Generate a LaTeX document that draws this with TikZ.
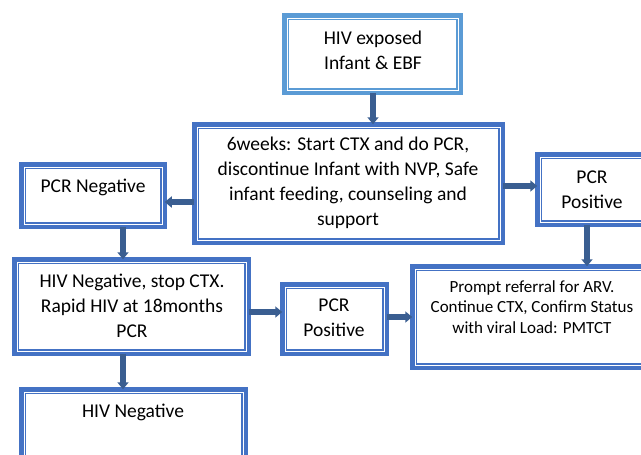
\documentclass[tikz,border=0pt]{standalone}
\usepackage{fontspec}
\setmainfont{Carlito}
\usetikzlibrary{arrows.meta}
\definecolor{boxblue}{RGB}{68,114,196}
\definecolor{lightblue}{RGB}{91,155,213}
\definecolor{arrowblue}{RGB}{58,94,145}
\tikzset{
  box/.style={draw=boxblue, line width=4.5pt, fill=white, inner sep=0pt, outer sep=0pt},
  topbox/.style={box, draw=lightblue},
  innerline/.style={draw=boxblue, line width=1.1pt},
  topinner/.style={innerline, draw=lightblue},
  txt/.style={align=center, inner sep=0pt, font=\fontsize{19.5}{25}\selectfont},
  smalltxt/.style={align=center, inner sep=0pt, font=\fontsize{17}{20.5}\selectfont},
  arr/.style={draw=arrowblue, line width=5.5pt, -{Triangle[width=11pt,length=7pt]}},
}
% frame of a box drawn a little inside its thick border
\newcommand\innerframe[2]{%
  \draw[#2] ([shift={(3.8pt,-3.8pt)}]#1.north west) rectangle ([shift={(-3.8pt,3.8pt)}]#1.south east);}
\begin{document}
\begin{tikzpicture}[x=1pt,y=-1pt]
\useasboundingbox (0,0) rectangle (641,455);
\clip (0,0) rectangle (641,455);

% boxes
\node[topbox, minimum width=176.5pt, minimum height=77.5pt] (top) at (372.5,54) {};
\innerframe{top}{topinner}
\node[box, minimum width=308.5pt, minimum height=118.5pt] (mid) at (348.5,183.5) {};
\innerframe{mid}{innerline}
\node[box, minimum width=143.5pt, minimum height=62.5pt] (pcrneg) at (93,195.5) {};
\innerframe{pcrneg}{innerline}
\node[box, minimum width=110.5pt, minimum height=70.5pt] (pcrposA) at (592.5,189.5) {};
\innerframe{pcrposA}{innerline}
\node[box, minimum width=285.5pt, minimum height=101.5pt] (refer) at (555,317) {};
\innerframe{refer}{innerline}
\node[box, minimum width=234.5pt, minimum height=94.5pt] (stopctx) at (131.5,306.5) {};
\innerframe{stopctx}{innerline}
\node[box, minimum width=104.5pt, minimum height=69.5pt] (pcrposB) at (334.5,319) {};
\innerframe{pcrposB}{innerline}
\node[box, minimum width=224.5pt, minimum height=88.5pt] (hivneg) at (133.5,433.5) {};
\innerframe{hivneg}{innerline}

% texts
\node[txt] (ttop) at (373,50) {HIV exposed\\Infant \& EBF};
\node[txt] (tmid) at (348,183) {6weeks: Start CTX and do PCR,\\discontinue Infant with NVP, Safe\\infant feeding, counseling and\\support};
\node[txt] (tpcrneg) at (93,187) {PCR Negative};
\node[txt] (tpcrposA) at (592,190) {PCR\\Positive};
\node[smalltxt] (trefer) at (532,307) {Prompt referral for ARV.\\Continue CTX, Confirm Status\\with viral Load: PMTCT};
\node[txt] (tstopctx) at (132,306) {HIV Negative, stop CTX.\\Rapid HIV at 18months\\PCR};
\node[txt] (tpcrposB) at (334,317.5) {PCR\\Positive};
\node[txt] (thivneg) at (133,412) {HIV Negative};

% connectors
\draw[arr] (top.south -| 373,0) -- (mid.north -| 373,0);
\draw[arr] (mid.west |- 0,202) -- (pcrneg.east |- 0,202);
\draw[arr] (mid.east |- 0,186) -- (pcrposA.west |- 0,186);
\draw[arr] (pcrposA.south -| 587,0) -- (refer.north -| 587,0);
\draw[arr] (pcrneg.south -| 123,0) -- (stopctx.north -| 123,0);
\draw[arr] (stopctx.east |- 0,312) -- (pcrposB.west |- 0,312);
\draw[arr] (pcrposB.east |- 0,317) -- (refer.west |- 0,317);
\draw[arr] (stopctx.south -| 123,0) -- (hivneg.north -| 123,0);
\end{tikzpicture}
\end{document}
